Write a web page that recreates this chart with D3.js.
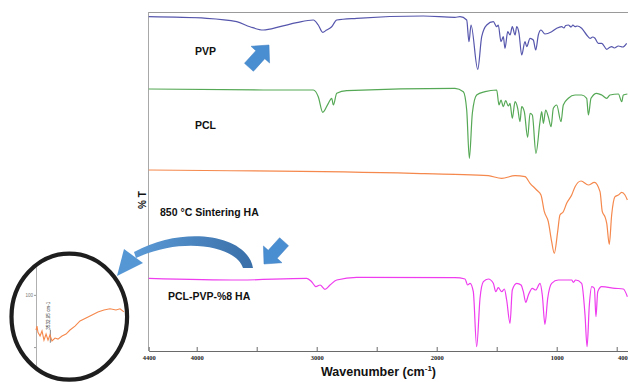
<!DOCTYPE html>
<html><head><meta charset="utf-8">
<script src="https://cdn.jsdelivr.net/npm/d3@7/dist/d3.min.js"></script>
<style>html,body{margin:0;padding:0;background:#fff;overflow:hidden}</style>
</head><body>
<svg id="c" width="628" height="382"></svg>
<script>
// ---------- DATA (wavenumber cm-1, offset %T units) ----------
const tickValues = [4400,4000,3500,3000,2500,2000,1500,1000,500,400];
const tickLabels = {4400:"4400",4000:"4000",3000:"3000",2000:"2000",1000:"1000",400:"400"};

const pvpWn = [4400,3917,3667,3556,3445,3306,3167,3028,2987,2950,2917,2875,2833,2667,2112,1848,1806,1750,1731,1714,1658,1625,1583,1528,1500,1487,1464,1445,1431,1408,1389,1370,1347,1333,1314,1292,1264,1250,1222,1195,1175,1153,1131,1098,1042,1000,958,940,925,903,880,865,847,830,792,750,722,700,681,653,625,583,560,542,520,486,450,417];
const pvpT  = [334.3,332.7,329.3,324.3,321,324.3,328.3,331,326,318.7,321,324.3,331,332.7,335,333.7,334.3,331,309.3,326,281.7,314.3,326,329.3,324.3,326,309.3,314.3,302.7,319.3,316,324.3,316,324.3,317.7,296,309.3,304.3,312.7,311,301,316,321,317,319.3,322.7,324.3,323,325.5,326,324,326,324.3,325,322.7,316,312.7,314,312.7,307.7,307.7,301.7,303.5,304.3,303,305,304,307.7];

const pclWn = [4400,3445,3028,2987,2950,2903,2875,2861,2833,2750,1848,1778,1750,1728,1703,1667,1597,1500,1481,1464,1445,1425,1403,1389,1370,1347,1325,1306,1292,1270,1242,1222,1203,1173,1139,1125,1111,1092,1070,1047,1028,1000,964,945,903,847,792,750,736,714,667,625,583,556,486,458,445,411];
const pclT  = [262,261,261,254.3,238.7,247.7,252.7,246,257.7,260.3,262.7,259.3,241,192.7,237.7,256,259.3,261,246,251,244.3,250.3,245,247.7,232.7,249.3,242.7,229.3,244.3,239.3,213.7,237.7,236,197.7,229.3,239.3,227.7,241,234.3,224.3,242.7,246,229.3,246,252.7,256,256,252.7,236,252.7,257.7,256,252.7,256,257,249.3,256,257];

const haWn = [4400,2195,1848,1570,1458,1347,1264,1222,1167,1131,1103,1070,1042,1020,992,973,945,917,875,847,797,736,686,639,620,598,583,562,542,514,486,458,431,411];
const haT  = [181,177.7,176.7,175.3,172.7,175.3,174.3,167.7,161,156,139.3,129.3,109.3,97.7,119.3,136,139.3,147.7,156,164.3,170,166,168.7,159.3,139.3,134.3,127.7,106.7,136,154.3,156,158.7,156,151];

const compWn = [4400,3639,3083,3042,3006,2972,2931,2889,2833,2667,1848,1764,1742,1722,1695,1667,1639,1611,1570,1528,1508,1487,1458,1436,1417,1389,1370,1333,1297,1278,1258,1236,1203,1175,1139,1120,1098,1075,1042,987,875,861,842,792,764,747,728,708,686,673,658,625,514,445,411];
const compT  = [72.7,71,72.7,69.3,64.3,66,61.7,66,71,73.7,73.3,72,66,67.7,59.3,4.3,52.7,69.3,72,67.7,59.3,63.3,59.3,62,51,27.7,61,67.7,66,59.3,48.7,56,62.7,61,67.7,56,26.7,52.7,67.7,71,71,68.7,71,67.7,36,4.3,46,64.3,62.7,34.3,59.3,64.3,62.7,62,54.3];

// inset (zoom of HA spectrum around the 3532.95 cm-1 band)
const insetWn = [3650,3642,3634,3617,3601,3585,3568,3552,3536,3520,3495,3471,3438,3405,3373,3332,3291,3242,3193,3145,3096,3047,2998,2965,2933];
const insetT  = [95.96,96.4,95.7,95.27,95.85,94.8,95.5,94.8,95.4,94.7,95.04,94.92,95.27,95.5,95.96,96.4,97.0,97.35,97.7,98.04,98.27,98.4,98.27,98.4,98.04];
const insetTicks = [94,100];
const markerWn = 3532.95;

const seriesNames = ["PVP","PCL","850 \u00B0C Sintering HA","PCL-PVP-%8 HA"];
const seriesColors = ["#5656ad","#55a855","#f5884c","#ee3cee"];

// ---------- CHART ----------
const svg = d3.select("#c");
const x = d3.scaleLinear().domain([4400,400]).range([148.7,628.7]);
const y = d3.scaleLinear().domain([0,339]).range([351,12]);

const defs = svg.append("defs");
defs.append("clipPath").attr("id","plotclip").append("rect")
  .attr("x",148).attr("y",0).attr("width",480).attr("height",382);
defs.append("clipPath").attr("id","ellclip").append("ellipse")
  .attr("cx",69.3).attr("cy",316.7).attr("rx",56).attr("ry",61);
const g1 = defs.append("linearGradient").attr("id","curveGrad").attr("x1","0").attr("x2","1").attr("y1","0").attr("y2","0");
g1.append("stop").attr("offset","0%").attr("stop-color","#5b9ad6");
g1.append("stop").attr("offset","100%").attr("stop-color","#3a6fa8");

// frame lines
svg.append("line").attr("x1",148.5).attr("x2",628).attr("y1",12.5).attr("y2",12.5)
  .attr("stroke","#9a9a9a").attr("stroke-width",1.2);
svg.append("line").attr("x1",148.5).attr("x2",148.5).attr("y1",12).attr("y2",351)
  .attr("stroke","#a8a8a8").attr("stroke-width",1);

// x axis
const xAxis = d3.axisBottom(x).tickValues(tickValues)
  .tickFormat(d => tickLabels[d] || "").tickSizeInner(-4).tickSizeOuter(0).tickPadding(4);
const ax = svg.append("g").attr("transform","translate(0,351)").call(xAxis);
ax.select(".domain").attr("stroke","#6a6a6a").attr("stroke-width",1.2);
ax.selectAll(".tick line").attr("stroke","#6a6a6a");
ax.selectAll(".tick text").attr("font-family","'Liberation Serif',serif").attr("font-weight","bold")
  .attr("font-size",6.5).attr("fill","#222");
ax.selectAll(".tick").filter(d => d === 400).select("text").attr("text-anchor","end").attr("dx",-1.5);

// x title
const xt = svg.append("text").attr("x",378.5).attr("y",376).attr("text-anchor","middle")
  .attr("font-family","'Liberation Sans',Arial,sans-serif").attr("font-weight","bold").attr("font-size",12.5).attr("fill","#111");
xt.append("tspan").text("Wavenumber (cm");
xt.append("tspan").attr("font-size",8).attr("dy",-5).text("-1");
xt.append("tspan").attr("dy",5).text(")");

// y title
svg.append("text").attr("transform","translate(146,200) rotate(-90)").attr("text-anchor","middle")
  .attr("font-family","'Liberation Sans',Arial,sans-serif").attr("font-weight","bold").attr("font-size",10).attr("fill","#111")
  .text("% T");

// spectra
const line = d3.line().x(d => x(d[0])).y(d => y(d[1])).curve(d3.curveMonotoneX);
const allSeries = [[pvpWn,pvpT],[pclWn,pclT],[haWn,haT],[compWn,compT]];
const plot = svg.append("g").attr("clip-path","url(#plotclip)");
allSeries.forEach((s,i) => {
  const pts = s[0].map((w,j) => [w, s[1][j]]);
  plot.append("path").datum(pts).attr("d",line).attr("fill","none")
    .attr("stroke",seriesColors[i]).attr("stroke-width",1.2).attr("stroke-linejoin","round");
});

// series labels
const labPos = [[195,55],[195,129],[160,216],[168,300]];
seriesNames.forEach((n,i) => {
  svg.append("text").attr("x",labPos[i][0]).attr("y",labPos[i][1])
    .attr("font-family","'Liberation Sans',Arial,sans-serif").attr("font-weight","bold")
    .attr("font-size",10.5).attr("fill","#111").text(n);
});

// block arrows
function blockArrow(tx, ty, angleDeg) {
  const pts = [[0,0],[-13,-12.5],[-13,-6],[-30,-6],[-30,6],[-13,6],[-13,12.5]];
  const a = angleDeg*Math.PI/180;
  const p = pts.map(([px,py]) => [tx + px*Math.cos(a) - py*Math.sin(a), ty + px*Math.sin(a) + py*Math.cos(a)]);
  svg.append("path").attr("d","M"+p.map(q=>q.join(",")).join("L")+"Z")
    .attr("fill","#4a8ed2").attr("stroke","#3f7fc0").attr("stroke-width",0.5);
}
blockArrow(269,45,-48);
blockArrow(264,264,132);

// curved arrow
svg.append("path")
  .attr("d","M253,268 C248,236 186,224 134,252 L136,258 C183,236 236,246 243,268 Z")
  .attr("fill","url(#curveGrad)");
svg.append("path").attr("d","M117,276 L124,249 L143,263 Z").attr("fill","#5596d4");

// inset
const inX = d3.scaleLinear().domain([3650,2900]).range([36,128]);
const inY = d3.scaleLinear().domain([91.6,103.2]).range([368,267]);
const ins = svg.append("g").attr("clip-path","url(#ellclip)");
const inAxis = d3.axisLeft(inY).tickValues(insetTicks).tickFormat(d => d===100 ? "100" : "").tickSize(2).tickPadding(1);
const ia = ins.append("g").attr("transform","translate(36,0)").call(inAxis);
ia.select(".domain").attr("stroke","#b0b0b0").attr("stroke-width",1);
ia.selectAll(".tick line").attr("stroke","#999");
ia.selectAll(".tick text").attr("font-size",4.5).attr("fill","#777").attr("font-family","'Liberation Sans',Arial,sans-serif");
ins.append("line").attr("x1",inX(markerWn)).attr("x2",inX(markerWn)).attr("y1",inY(96)).attr("y2",inY(94.5))
  .attr("stroke","#333").attr("stroke-width",0.6);
ins.append("text").attr("transform",`translate(${inX(markerWn)-0.5},${inY(96)}) rotate(-90)`)
  .attr("font-size",4.6).attr("fill","#333").attr("font-family","'Liberation Sans',Arial,sans-serif")
  .text("3532.95 cm-1");
const inLine = d3.line().x(d => inX(d[0])).y(d => inY(d[1]));
ins.append("path").datum(insetWn.map((w,j)=>[w,insetT[j]])).attr("d",inLine)
  .attr("fill","none").attr("stroke","#f5884c").attr("stroke-width",1.1);
svg.append("ellipse").attr("cx",69.3).attr("cy",316.7).attr("rx",57.8).attr("ry",63)
  .attr("fill","none").attr("stroke","#1e1e1e").attr("stroke-width",4.2);
</script>
</body></html>
